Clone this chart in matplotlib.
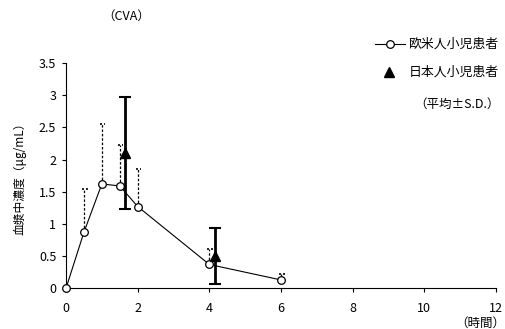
import matplotlib
matplotlib.use("Agg")
import matplotlib.pyplot as plt

plt.rcParams['font.family'] = ['Noto Sans CJK JP', 'DejaVu Sans']

# 欧米人小児患者 (mean, upper SD)
west_time = [0, 0.5, 1, 1.5, 2, 4, 6]
west_mean = [0.0, 0.87, 1.62, 1.59, 1.27, 0.37, 0.13]
west_upper = [0.0, 1.54, 2.55, 2.22, 1.85, 0.61, 0.22]

# 日本人小児患者
jp_time = [1.65, 4.15]
jp_mean = [2.1, 0.5]
jp_sd = [0.87, 0.43]

xticks = [0, 2, 4, 6, 8, 10, 12]
yticks = [0, 0.5, 1, 1.5, 2, 2.5, 3, 3.5]
ytick_labels = ['0', '0.5', '1', '1.5', '2', '2.5', '3', '3.5']

fig = plt.figure(figsize=(5.05, 3.29), dpi=100)
ax = fig.add_axes([0.1307, 0.1237, 0.8515, 0.6851])

# upper SD for western group (dotted)
for t, m, u in zip(west_time, west_mean, west_upper):
    if u > m:
        ax.plot([t, t], [m, u], ls=(0, (2, 1.5)), color='black', lw=0.9, zorder=2)
        ax.plot([t - 0.06, t + 0.1], [u, u], ls=(0, (1.2, 1.2)), color='black', lw=1.2, zorder=2)

ax.plot(west_time, west_mean, color='black', lw=0.8, marker='o', ms=5.5,
        mfc='white', mec='black', mew=0.9, clip_on=False, zorder=4)

ax.errorbar(jp_time, jp_mean, yerr=jp_sd, fmt='^', color='black', ms=6.5,
            elinewidth=2, capsize=4, capthick=1.5, zorder=5)

ax.set_xlim(0, 12)
ax.set_ylim(0, 3.5)
ax.set_xticks(xticks)
ax.set_yticks(yticks)
ax.set_yticklabels(ytick_labels)
for s in ['top', 'right']:
    ax.spines[s].set_visible(False)
ax.tick_params(direction='out', length=3, width=0.8, labelsize=9)
ax.tick_params(axis='x', pad=7)
ax.tick_params(axis='y', pad=4)
ax.set_ylabel('血漿中濃度（μg/mL）', fontsize=8.5, labelpad=9)

fig.text(0.25, 0.95, '（CVA）', fontsize=9, ha='center', va='center')
fig.text(1.0, 0.018, '（時間）', fontsize=9, ha='right', va='center')

# legend
fig.text(0.988, 0.866, '欧米人小児患者', fontsize=9.3, ha='right', va='center')
fig.lines.append(plt.Line2D([0.743, 0.802], [0.866, 0.866], transform=fig.transFigure,
                            color='black', lw=0.8))
fig.lines.append(plt.Line2D([0.7725], [0.866], transform=fig.transFigure,
                            ls='none', marker='o', ms=5.5, mfc='white', mec='black', mew=0.9))
fig.text(0.988, 0.782, '日本人小児患者', fontsize=9.3, ha='right', va='center')
fig.lines.append(plt.Line2D([0.77], [0.782], transform=fig.transFigure,
                            ls='none', marker='^', ms=6.5, color='black'))
fig.text(0.99, 0.684, '（平均±S.D.）', fontsize=9, ha='right', va='center')

fig.savefig('out.png', dpi=100)
